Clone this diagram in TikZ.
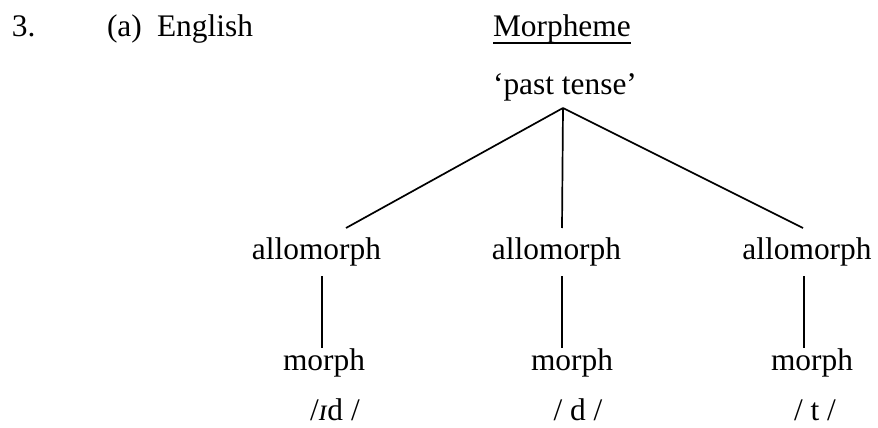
\documentclass[tikz,border=0pt]{standalone}
\usepackage{fontspec}
\setmainfont{Liberation Serif}
\begin{document}
\begin{tikzpicture}[x=1pt,y=-1pt,
  lbl/.style={inner sep=0pt,outer sep=0pt,anchor=base,font=\fontsize{31.4}{36}\selectfont},
  lblw/.style={lbl,anchor=base west},
  edge/.style={line width=1.7pt,line cap=butt}]
\useasboundingbox (0,0) rectangle (878,428);
\fill[white] (0,0) rectangle (878,428);
% header
\node[lblw] (num) at (12,37) {3.};
\node[lblw] (part) at (107,37) {(a)};
\node[lblw] (lang) at (157,37) {English};
\node[lblw] (morpheme) at (493,37) {Morpheme};
\draw[line width=1.8pt] ([yshift=-6]morpheme.base west) -- ([yshift=-6]morpheme.base east);
% root
\node[lbl] (root) at (565,95) {‘past tense’};
\coordinate (apex) at (563,108);
% allomorphs
\node[lbl] (aL) at (316.5,259) {allomorph};
\node[lbl] (aM) at (556.5,259) {allomorph};
\node[lbl] (aR) at (807,259) {allomorph};
\coordinate (aLtop) at (346,228);
\coordinate (aMtop) at (562,228);
\coordinate (aRtop) at (803,228);
\draw[edge] (apex) -- (aLtop);
\draw[edge] (apex) -- (aMtop);
\draw[edge] (apex) -- (aRtop);
% morphs
\node[lbl] (mL) at (324,370) {morph};
\node[lbl] (mM) at (572,370) {morph};
\node[lbl] (mR) at (812,370) {morph};
\coordinate (aLbot) at (322,276);
\coordinate (aMbot) at (562,276);
\coordinate (aRbot) at (804,276);
\coordinate (mLtop) at (322,348);
\coordinate (mMtop) at (562,348);
\coordinate (mRtop) at (804,348);
\draw[edge] (aLbot) -- (mLtop);
\draw[edge] (aMbot) -- (mMtop);
\draw[edge] (aRbot) -- (mRtop);
% phonemic forms
\node[lbl] (pL) at (335,420) {/\textit{ɪ}d /};
\node[lbl] (pM) at (578,420) {/ d /};
\node[lbl] (pR) at (815,420) {/ t /};
\end{tikzpicture}
\end{document}
